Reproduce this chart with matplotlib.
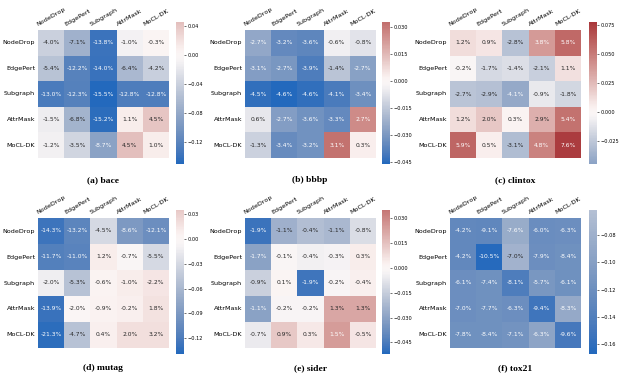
import numpy as np
import matplotlib
matplotlib.use("Agg")
import matplotlib.pyplot as plt
import matplotlib.ticker as mticker
import seaborn as sns

methods = ["NodeDrop", "EdgePert", "Subgraph", "AttrMask", "MoCL-DK"]
captions = ["(a) bace", "(b) bbbp", "(c) clintox", "(d) mutag", "(e) sider", "(f) tox21"]

# colour values
bace_vals = [[-0.040, -0.071, -0.138, -0.010, 0.003],
             [-0.054, -0.122, -0.140, -0.064, -0.042],
             [-0.130, -0.123, -0.150, -0.128, -0.128],
             [-0.015, -0.068, -0.145, 0.011, 0.040],
             [-0.012, -0.035, -0.087, 0.045, 0.010]]
bbbp_vals = [[-0.025, -0.035, -0.036, -0.004, -0.007],
             [-0.028, -0.030, -0.039, -0.016, -0.027],
             [-0.044, -0.046, -0.044, -0.040, -0.033],
             [-0.006, -0.028, -0.032, -0.035, 0.026],
             [-0.012, -0.034, -0.032, 0.032, 0.003]]
clintox_vals = [[0.012, 0.009, -0.028, 0.038, 0.058],
                [-0.002, -0.017, -0.014, -0.021, 0.011],
                [-0.027, -0.029, -0.041, -0.009, -0.018],
                [0.012, 0.020, 0.003, 0.029, 0.054],
                [0.059, 0.005, -0.031, 0.048, 0.076]]
mutag_vals = [[-0.128, -0.110, -0.030, -0.090, -0.100],
              [-0.115, -0.112, 0.010, -0.003, -0.030],
              [-0.012, -0.050, 0.005, 0.010, 0.015],
              [-0.130, -0.002, 0.006, 0.008, 0.018],
              [-0.135, -0.050, 0.008, 0.020, 0.020]]
sider_vals = [[-0.048, -0.025, -0.020, -0.022, -0.010],
              [-0.030, -0.001, -0.004, -0.003, 0.004],
              [-0.014, 0.001, -0.047, -0.002, 0.003],
              [-0.030, -0.002, -0.002, 0.022, 0.022],
              [-0.006, 0.013, 0.005, 0.025, 0.006]]
tox21_vals = [[-0.128, -0.130, -0.085, -0.122, -0.120],
              [-0.128, -0.165, -0.078, -0.120, -0.118],
              [-0.120, -0.118, -0.142, -0.110, -0.118],
              [-0.120, -0.118, -0.120, -0.152, -0.088],
              [-0.118, -0.118, -0.115, -0.095, -0.148]]

# cell annotations
bace_text = [["-4.0%", "-7.1%", "-13.8%", "-1.0%", "-0.3%"],
             ["-5.4%", "-12.2%", "-14.0%", "-6.4%", "-4.2%"],
             ["-13.0%", "-12.3%", "-15.5%", "-12.8%", "-12.8%"],
             ["-1.5%", "-6.8%", "-15.2%", "1.1%", "4.5%"],
             ["-1.2%", "-3.5%", "-8.7%", "4.5%", "1.0%"]]
bbbp_text = [["-2.7%", "-3.2%", "-3.6%", "-0.6%", "-0.8%"],
             ["-3.1%", "-2.7%", "-3.9%", "-1.4%", "-2.7%"],
             ["-4.5%", "-4.6%", "-4.6%", "-4.1%", "-3.4%"],
             ["0.6%", "-2.7%", "-3.6%", "-3.3%", "2.7%"],
             ["-1.3%", "-3.4%", "-3.2%", "3.1%", "0.3%"]]
clintox_text = [["1.2%", "0.9%", "-2.8%", "3.8%", "5.8%"],
                ["-0.2%", "-1.7%", "-1.4%", "-2.1%", "1.1%"],
                ["-2.7%", "-2.9%", "-4.1%", "-0.9%", "-1.8%"],
                ["1.2%", "2.0%", "0.3%", "2.9%", "5.4%"],
                ["5.9%", "0.5%", "-3.1%", "4.8%", "7.6%"]]
mutag_text = [["-14.3%", "-13.2%", "-4.5%", "-8.6%", "-12.1%"],
              ["-11.7%", "-11.0%", "1.2%", "-0.7%", "-5.5%"],
              ["-2.0%", "-5.3%", "-0.6%", "-1.0%", "-2.2%"],
              ["-13.9%", "-2.0%", "-0.9%", "-0.2%", "1.8%"],
              ["-21.3%", "-4.7%", "0.4%", "2.0%", "3.2%"]]
sider_text = [["-1.9%", "-1.1%", "-0.4%", "-1.1%", "-0.8%"],
              ["-1.7%", "-0.1%", "-0.4%", "-0.3%", "0.3%"],
              ["-0.9%", "0.1%", "-1.9%", "-0.2%", "-0.4%"],
              ["-1.1%", "-0.2%", "-0.2%", "1.3%", "1.3%"],
              ["-0.7%", "0.9%", "0.3%", "1.5%", "-0.5%"]]
tox21_text = [["-4.2%", "-9.1%", "-7.6%", "-6.0%", "-6.3%"],
              ["-4.2%", "-10.5%", "-7.0%", "-7.9%", "-8.4%"],
              ["-6.1%", "-7.4%", "-8.1%", "-5.7%", "-6.1%"],
              ["-7.0%", "-7.7%", "-6.3%", "-9.4%", "-8.3%"],
              ["-7.8%", "-8.4%", "-7.1%", "-6.3%", "-9.6%"]]

cbar_lims = [(-0.150, 0.045), (-0.046, 0.033), (-0.045, 0.078),
             (-0.139, 0.035), (-0.052, 0.035), (-0.167, -0.062)]

all_vals = [bace_vals, bbbp_vals, clintox_vals, mutag_vals, sider_vals, tox21_vals]
all_text = [bace_text, bbbp_text, clintox_text, mutag_text, sider_text, tox21_text]

W, H = 624, 375
fig = plt.figure(figsize=(W / 100, H / 100), dpi=100)


def px_axes(x0, y0, x1, y1):
    # pixel box (top-left origin) -> figure axes
    return fig.add_axes([x0 / W, 1 - y1 / H, (x1 - x0) / W, (y1 - y0) / H])


heat_x = [38, 245, 450]
heat_y = [(30, 158), (218, 348)]
cbar_x = [176, 382, 589]
cbar_y = [(22, 164), (210, 354)]
cap_y = [180, 368]

for i in range(6):
    r, c = divmod(i, 3)
    ax = px_axes(heat_x[c], heat_y[r][0], heat_x[c] + 131, heat_y[r][1])
    cax = px_axes(cbar_x[c], cbar_y[r][0], cbar_x[c] + 8, cbar_y[r][1])
    vmin, vmax = cbar_lims[i]
    sns.heatmap(
        np.array(all_vals[i]),
        ax=ax,
        cbar_ax=cax,
        cmap="vlag",
        center=0,
        vmin=vmin,
        vmax=vmax,
        annot=np.array(all_text[i]),
        fmt="",
        annot_kws={"size": 4.3},
        xticklabels=methods,
        yticklabels=methods,
        cbar_kws={"ticks": mticker.MaxNLocator(6)},
    )
    ax.xaxis.tick_top()
    ax.set_xticklabels(methods, rotation=30, ha="center", fontsize=4.6)
    ax.set_yticklabels(methods, rotation=0, fontsize=4.6)
    ax.tick_params(length=0, pad=2)
    cax.tick_params(labelsize=3.6, length=1.5, width=0.4, pad=1)
    cx = heat_x[c] + 65
    fig.text(cx / W, 1 - cap_y[r] / H, captions[i], ha="center", va="center",
             fontsize=6.8, fontweight="bold", family="Liberation Serif")

fig.savefig("out.png", dpi=100)
